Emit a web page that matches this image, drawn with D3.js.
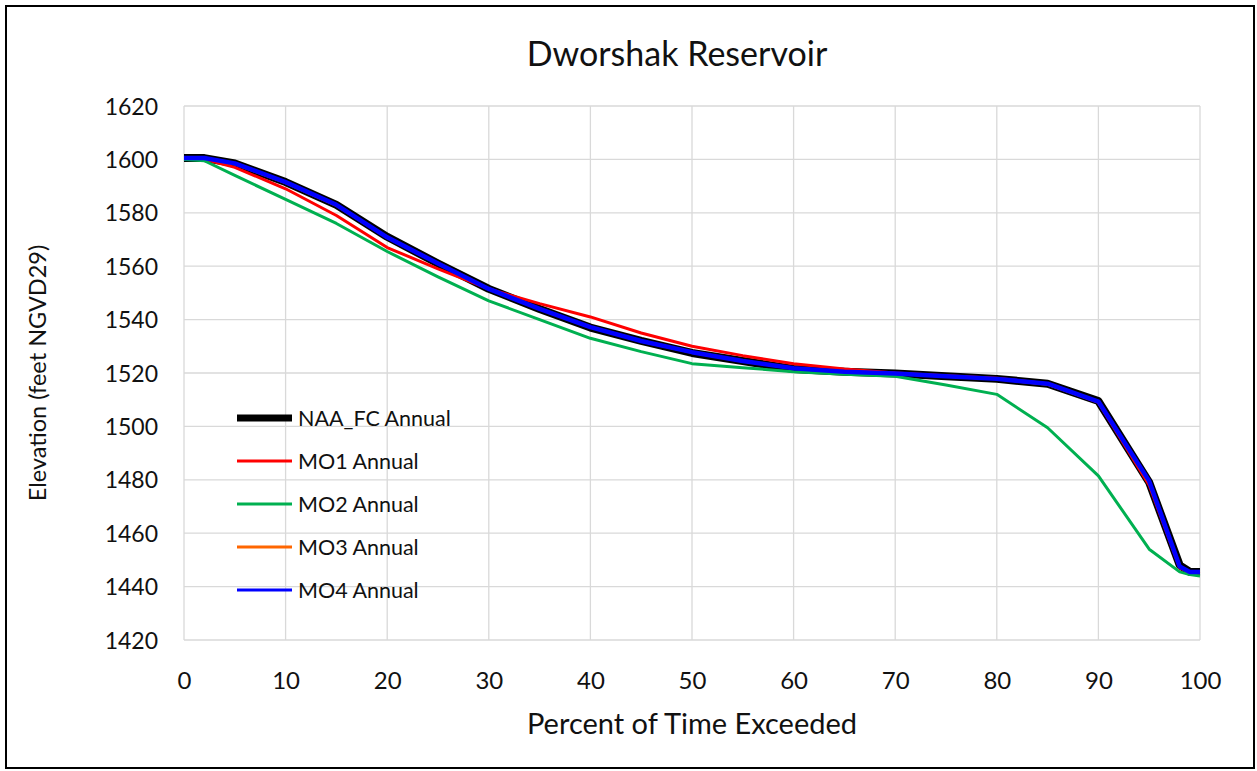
<!DOCTYPE html>
<html><head><meta charset="utf-8">
<script src="https://cdn.jsdelivr.net/npm/d3@7/dist/d3.min.js"></script>
<style>body{margin:0;background:#fff}svg{display:block}text{font-family:Lato,"Open Sans",sans-serif;fill:#111}</style>
</head><body><svg id="c" width="1257" height="771"></svg>
<script>
const xPct = [0, 2, 5, 10, 15, 20, 25, 30, 35, 40, 45, 50, 55, 60, 65, 70, 75, 80, 85, 90, 95, 98, 99, 100];
const naa = [1600.5,1600.5,1598.5,1591.5,1583,1571,1561,1551.5,1544,1537,1532,1527.5,1524.5,1521.5,1520.5,1519.8,1518.8,1517.8,1516,1509.5,1479,1448,1445.5,1445.5];
const mo1 = [1600,1600,1597,1589,1579,1567,1559,1551.5,1546,1541,1535,1530,1526.5,1523.5,1521.5,1520,1519,1518,1516,1509,1478,1447,1445.3,1445];
const mo2 = [1600,1599.5,1594,1585,1576,1565.5,1556,1547,1540,1533,1528,1523.5,1522,1520.5,1519.5,1518.8,1515.5,1512,1499.5,1481.5,1454,1445.5,1444.5,1444];
const mo3 = [1600.5,1600.5,1598.3,1591.3,1582.8,1570.8,1561,1551.5,1544,1537.2,1532,1527.8,1524.5,1521.8,1520.5,1519.8,1518.8,1517.8,1515.8,1509.2,1479,1447.5,1445.3,1445.3];
const mo4 = [1600.5,1600.5,1598.5,1591.5,1583,1570.8,1561,1551.5,1544,1537.2,1532,1527.8,1524.5,1521.8,1520.5,1519.8,1518.8,1517.8,1516,1509.3,1479.5,1447.5,1445.5,1445.5];
const seriesNames = ["NAA_FC Annual","MO1 Annual","MO2 Annual","MO3 Annual","MO4 Annual"];
const xTicks = [0,10,20,30,40,50,60,70,80,90,100];
const yTicks = [1420,1440,1460,1480,1500,1520,1540,1560,1580,1600,1620];

const svg = d3.select("#c");
svg.append("rect").attr("x",6).attr("y",6).attr("width",1248).attr("height",762)
  .attr("fill","#fff").attr("stroke","#000").attr("stroke-width",2);

const x = d3.scaleLinear().domain([0,100]).range([184,1200]);
const y = d3.scaleLinear().domain([1420,1620]).range([640,106]);

// grid
svg.append("g").selectAll("line.h").data(yTicks).join("line")
  .attr("x1",184).attr("x2",1200).attr("y1",d=>y(d)).attr("y2",d=>y(d))
  .attr("stroke","#d9d9d9").attr("stroke-width",1.3);
svg.append("g").selectAll("line.v").data(xTicks).join("line")
  .attr("y1",106).attr("y2",640).attr("x1",d=>x(d)).attr("x2",d=>x(d))
  .attr("stroke","#d9d9d9").attr("stroke-width",1.3);

// axes labels
const yAxis = svg.append("g").attr("transform","translate(172,0)")
  .call(d3.axisLeft(y).tickValues(yTicks).tickFormat(d3.format("d")).tickSize(0).tickPadding(14));
yAxis.select(".domain").remove();
yAxis.selectAll("text").style("font-size","23px").attr("dy","0.35em").style("fill","#111");
const xAxis = svg.append("g").attr("transform","translate(0,670)")
  .call(d3.axisBottom(x).tickValues(xTicks).tickFormat(d3.format("d")).tickSize(0).tickPadding(2));
xAxis.select(".domain").remove();
xAxis.selectAll("text").style("font-size","24px").style("fill","#111");

svg.append("text").attr("x",677).attr("y",66).attr("text-anchor","middle").style("font-size","34px").text("Dworshak Reservoir");
svg.append("text").attr("x",692).attr("y",734).attr("text-anchor","middle").style("font-size","29px").text("Percent of Time Exceeded");
svg.append("text").attr("transform","translate(46,373) rotate(-90)").attr("text-anchor","middle").style("font-size","23.5px").text("Elevation (feet NGVD29)");

const line = d3.line().x((d,i)=>x(xPct[i])).y(d=>y(d));
const styles = [
  {data:naa,color:"#000000",w:8},
  {data:mo1,color:"#ff0000",w:3},
  {data:mo2,color:"#00b050",w:3},
  {data:mo3,color:"#ff6600",w:3},
  {data:mo4,color:"#0000ff",w:4.5}
];
styles.forEach(s=>{
  svg.append("path").datum(s.data).attr("d",line).attr("fill","none")
    .attr("stroke",s.color).attr("stroke-width",s.w).attr("stroke-linejoin","round");
});

// legend
const lg = svg.append("g");
const legW = [7,3,3,3,3];
seriesNames.forEach((n,i)=>{
  const yy = 418 + i*43;
  lg.append("line").attr("x1",237).attr("x2",292).attr("y1",yy).attr("y2",yy)
    .attr("stroke",styles[i].color).attr("stroke-width",legW[i]);
  lg.append("text").attr("x",298).attr("y",yy).attr("dy","0.35em").style("font-size","21.5px").text(n);
});
</script></body></html>
